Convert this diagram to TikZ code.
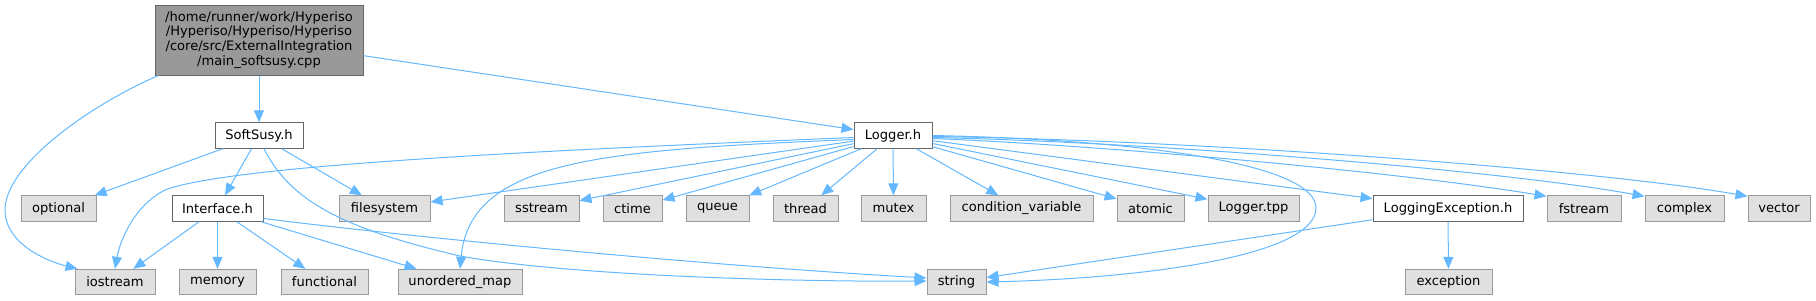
\documentclass[tikz,border=0pt]{standalone}
\usepackage{fontspec}
\setmainfont{DejaVu Sans}
\usetikzlibrary{calc,arrows.meta}
\definecolor{edgeblue}{HTML}{63B8FF}
\definecolor{sysfill}{HTML}{E0E0E0}
\definecolor{sysline}{HTML}{999999}
\definecolor{srcline}{HTML}{666666}
\definecolor{rootfill}{HTML}{999999}
\tikzset{
  hdr/.style={draw=srcline,fill=white,line width=0.75pt,inner sep=0pt,minimum height=19pt,minimum width=#1*0.75pt},
  sys/.style={hdr=#1,draw=sysline,fill=sysfill},
  inc/.style={-{Triangle[length=9pt,width=7.5pt]},edgeblue,line width=0.75pt},
}
\begin{document}
\begin{tikzpicture}[x=0.75pt,y=-0.75pt,font=\fontsize{9.8}{11.2}\selectfont]
\useasboundingbox (0,0) rectangle (1816,300);
\node[hdr=208,fill=rootfill,minimum height=52.5pt,align=center] (main) at (259,40) {/home/runner/work/Hyperiso\\/Hyperiso/Hyperiso/Hyperiso\\/core/src/ExternalIntegration\\/main\_softsusy.cpp};
\node[hdr=88] (softsusy) at (259,135.5) {SoftSusy.h};
\node[hdr=78] (logger) at (893,135.5) {Logger.h};
\node[sys=75] (optional) at (58.5,208.5) {optional};
\node[hdr=91] (interface) at (217.5,208.5) {Interface.h};
\node[sys=91] (filesystem) at (384.5,208.5) {filesystem};
\node[sys=75] (sstream) at (541.5,208.5) {sstream};
\node[sys=59] (ctime) at (632.5,208.5) {ctime};
\node[sys=63] (queue) at (717.5,208.5) {queue};
\node[sys=65] (thread) at (805.5,208.5) {thread};
\node[sys=65] (mutex) at (893.5,208.5) {mutex};
\node[sys=143] (condvar) at (1021.5,208.5) {condition\_variable};
\node[sys=67] (atomic) at (1150.5,208.5) {atomic};
\node[sys=91] (loggertpp) at (1253.5,208.5) {Logger.tpp};
\node[hdr=150] (logexc) at (1448,208.5) {LoggingException.h};
\node[sys=74] (fstream) at (1584,208.5) {fstream};
\node[sys=79] (complex) at (1684.5,208.5) {complex};
\node[sys=62] (vector) at (1779,208.5) {vector};
\node[sys=80] (iostream) at (115,282) {iostream};
\node[sys=77] (memory) at (217.5,282) {memory};
\node[sys=87] (functional) at (324.5,282) {functional};
\node[sys=124] (umap) at (460,282) {unordered\_map};
\node[sys=59] (string) at (956.5,282) {string};
\node[sys=87] (exception) at (1448.5,282) {exception};

\draw[inc] (main) -- (softsusy);
\draw[inc] (main) -- (logger);
\draw[inc] ($(main.south west)+(4,0)$) .. controls (90,105) and (5,165) .. (5,210) .. controls (5,245) and (50,262) .. ($(iostream.north west)+(3,0)$);

\draw[inc] (softsusy) -- (optional);
\draw[inc] (softsusy) -- (interface);
\draw[inc] (softsusy) -- (filesystem);
\draw[inc] ($(softsusy.south)+(5,0)$) .. controls (290,200) and (340,228) .. (460,256) .. controls (570,276) and (800,282) .. ($(string.west)+(0,-1)$);

\draw[inc] (interface) -- (iostream);
\draw[inc] (interface) -- (memory);
\draw[inc] (interface) -- (functional);
\draw[inc] (interface) -- (umap);
\draw[inc] ($(interface.east)+(0,10)$) .. controls (420,238) and (700,265) .. ($(string.west)+(0,-4)$);

\draw[inc] ($(logger.west)+(0,2)$) .. controls (550,150) and (230,165) .. (165,190) .. controls (135,205) and (120,240) .. (iostream.north);
\draw[inc] ($(logger.west)+(0,4)$) .. controls (600,150) and (470,160) .. (umap.north);
\draw[inc] (logger) -- (filesystem);
\draw[inc] (logger) -- (sstream);
\draw[inc] (logger) -- (ctime);
\draw[inc] (logger) -- (queue);
\draw[inc] (logger) -- (thread);
\draw[inc] (logger) -- (mutex);
\draw[inc] (logger) -- (condvar);
\draw[inc] (logger) -- (atomic);
\draw[inc] (logger) -- (loggertpp);
\draw[inc] (logger) -- (logexc);
\draw[inc] ($(logger.east)+(0,3)$) .. controls (1100,145) and (1400,172) .. ($(fstream.north west)+(0,1)$);
\draw[inc] ($(logger.east)+(0,2)$) .. controls (1150,142) and (1500,170) .. ($(complex.north west)+(0,1)$);
\draw[inc] ($(logger.east)+(0,1)$) .. controls (1200,140) and (1600,170) .. ($(vector.north west)+(0,1)$);
\draw[inc] (logger.east) .. controls (1150,140) and (1316,165) .. (1316,208) .. controls (1316,255) and (1150,278) .. (string.east);

\draw[inc] (logexc) -- (string);
\draw[inc] (logexc) -- (exception);
\end{tikzpicture}
\end{document}
